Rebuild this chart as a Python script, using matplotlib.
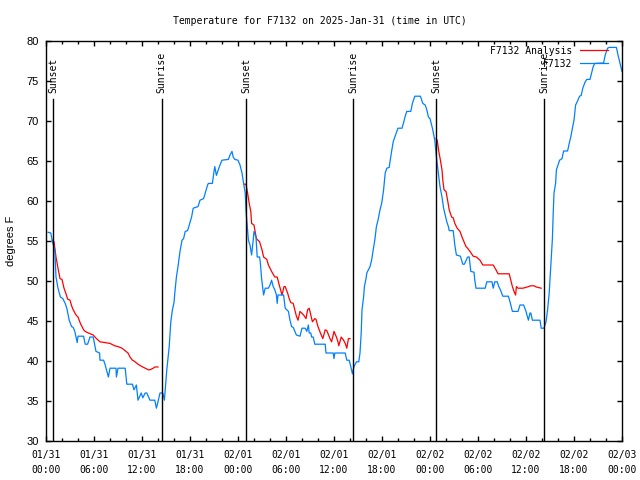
import numpy as np
import pandas as pd
import matplotlib
matplotlib.use("Agg")
from matplotlib import pyplot as plt
import matplotlib.dates as mdates

start = pd.Timestamp("2025-01-31 00:00")

# observed station temps (hours after start, deg F)
obs_hours = [0.25, 0.6, 0.8, 1.1, 1.25, 1.5, 1.8, 2.1, 2.4, 2.6, 2.9, 3.2, 3.4, 3.6, 3.9, 4.0, 4.7, 4.9,
             5.2, 5.5, 5.9, 6.25, 6.7, 6.75, 7.2, 7.4, 7.8, 8.0, 8.75, 8.8, 9.0, 9.9, 10.1, 10.8, 11.0,
             11.3, 11.5, 11.9, 12.1, 12.4, 12.6, 13.0, 13.6, 13.8, 14.0, 14.25, 14.6, 14.8, 15.1, 15.4,
             15.6, 15.8, 16.0, 16.1, 16.3, 16.5, 16.75, 17.0, 17.2, 17.4, 17.7, 17.9, 18.2, 18.4, 19.0,
             19.25, 19.7, 19.9, 20.2, 20.3, 20.8, 21.0, 21.1, 21.3, 21.5, 21.75, 22.0, 22.8, 23.0, 23.25,
             23.4, 23.6, 24.0, 24.25, 24.5, 24.7, 24.9, 25.0, 25.3, 25.5, 25.6, 25.7, 25.9, 26.0, 26.25,
             26.4, 26.7, 26.8, 26.95, 27.2, 27.4, 27.8, 28.0, 28.2, 28.4, 28.6, 28.8, 28.9, 29.0, 29.7,
             29.9, 30.3, 30.5, 30.7, 30.9, 31.3, 31.75, 32.0, 32.4, 32.6, 32.8, 32.9, 33.1, 33.2, 33.4,
             33.6, 34.9, 35.0, 35.9, 36.0, 36.1, 37.4, 37.6, 37.9, 38.1, 38.3, 38.5, 38.8, 39.1, 39.25,
             39.4, 39.5, 39.7, 39.8, 40.0, 40.1, 40.5, 40.7, 40.9, 41.1, 41.3, 41.5, 41.75, 41.96, 42.2,
             42.4, 42.6, 42.9, 43.0, 43.2, 43.4, 43.6, 44.0, 44.5, 44.7, 44.9, 45.1, 45.6, 45.8, 46.1,
             46.8, 47.1, 47.4, 47.6, 47.8, 48.0, 48.3, 48.6, 48.8, 49.0, 49.25, 49.5, 49.7, 49.9, 50.1,
             50.3, 50.4, 50.9, 51.1, 51.3, 51.8, 52.1, 52.3, 52.7, 52.9, 53.1, 53.5, 53.6, 53.75, 54.9,
             55.1, 55.75, 55.9, 56.1, 56.4, 56.6, 56.8, 57.1, 57.8, 58.0, 58.3, 59.0, 59.25, 59.7, 60.0,
             60.3, 60.5, 60.6, 60.8, 61.75, 61.9, 62.25, 62.5, 62.7, 62.9, 63.1, 63.3, 63.4, 63.5, 63.7,
             63.8, 64.0, 64.2, 64.5, 64.7, 65.2, 65.4, 65.6, 65.8, 66.0, 66.2, 66.4, 66.7, 66.9, 67.1,
             67.4, 67.6, 68.0, 68.2, 68.4, 68.6, 69.7, 69.9, 70.2, 70.4, 71.3, 71.5, 71.75, 72.0]
obs_temp = [56.1, 56.0, 54.9, 53.9, 50.5, 49.1, 48.0, 47.8, 47.2, 46.6, 45.1, 44.3, 44.2, 43.7, 42.3, 43.1,
            43.1, 42.1, 42.1, 43.0, 43.0, 41.2, 41.0, 40.1, 40.1, 39.5, 38.0, 39.1, 39.1, 38.0, 39.1,
            39.1, 37.1, 37.1, 36.4, 37.0, 35.1, 36.0, 35.4, 36.0, 36.0, 35.1, 35.1, 34.1, 34.9, 36.0,
            36.0, 35.1, 38.9, 41.8, 44.9, 46.4, 47.3, 48.5, 50.5, 51.8, 53.7, 55.1, 55.3, 56.2, 56.3,
            57.0, 58.0, 59.1, 59.3, 60.1, 60.3, 61.0, 62.0, 62.2, 62.2, 63.7, 64.3, 63.2, 63.8, 64.5,
            65.1, 65.2, 65.75, 66.2, 65.5, 65.2, 65.1, 64.5, 63.5, 62.2, 61.0, 58.8, 55.1, 54.5, 53.9,
            53.25, 55.1, 56.2, 55.5, 53.0, 53.0, 52.2, 50.3, 48.25, 49.1, 49.1, 49.5, 50.1, 49.3, 48.9,
            48.25, 47.2, 48.25, 48.25, 46.6, 46.2, 45.1, 44.3, 44.2, 43.25, 43.1, 44.1, 44.1, 43.7, 44.5,
            43.5, 43.5, 43.0, 43.0, 42.1, 42.1, 41.0, 41.0, 40.3, 41.0, 41.0, 40.1, 40.1, 39.3, 38.4,
            39.3, 39.9, 39.9, 41.0, 43.5, 46.4, 48.0, 49.3, 50.3, 51.0, 51.8, 52.6, 53.9, 55.1, 56.8,
            57.6, 58.9, 59.7, 61.4, 63.5, 64.1, 64.2, 64.9, 66.2, 67.4, 68.0, 69.1, 69.1, 69.8, 70.6,
            71.2, 71.2, 72.2, 73.1, 73.1, 72.2, 72.0, 71.4, 70.5, 70.3, 69.1, 67.6, 65.5, 63.9, 61.8,
            60.5, 59.1, 58.25, 57.4, 56.8, 56.3, 56.3, 54.5, 53.25, 53.1, 52.1, 52.1, 53.0, 53.0, 51.2,
            51.1, 50.1, 49.1, 49.1, 49.9, 49.9, 49.1, 49.9, 49.9, 49.3, 48.9, 48.1, 48.1, 47.4, 46.2,
            46.2, 47.0, 47.0, 46.2, 45.1, 46.0, 46.0, 45.1, 45.1, 44.1, 44.1, 44.9, 46.4, 48.5, 51.8,
            55.3, 58.4, 61.0, 62.2, 63.9, 64.5, 65.1, 65.3, 66.25, 66.25, 67.2, 68.0, 69.1, 70.1, 72.0,
            72.4, 73.1, 73.2, 74.1, 74.9, 75.2, 75.2, 76.0, 76.8, 77.2, 77.25, 78.25, 79.1, 79.2, 79.2,
            78.25, 77.2, 76.2]

# analysis temps, three overnight runs (nan breaks the line)
ana_hours = [0.8, 1.0, 1.25, 1.5, 1.75, 2.0, 2.25, 2.5, 2.7, 3.0, 3.2, 3.4, 3.75, 4.0, 4.3, 4.7, 4.9, 5.3,
             5.9, 6.3, 6.75, 7.4, 8.0, 8.6, 9.0, 9.5, 10.0, 10.25, 10.5, 10.8, 11.0, 11.5, 12.0, 12.4,
             12.8, 13.0, 13.4, 13.6, 14.0, 14.1,
             24.8, 25.0, 25.2, 25.4, 25.6, 25.7, 26.0, 26.1, 26.3, 26.7, 27.0, 27.2, 27.6, 27.8, 28.0,
             28.2, 28.6, 28.9, 29.1, 29.3, 29.5, 29.75, 29.9, 30.2, 30.4, 30.6, 30.9, 31.1, 31.3, 31.5,
             31.75, 32.2, 32.5, 32.7, 32.9, 33.1, 33.3, 33.6, 33.75, 34.0, 34.3, 34.6, 34.9, 35.1, 35.5,
             35.7, 36.0, 36.3, 36.5, 36.6, 36.9, 37.2, 37.4, 37.6, 37.8, 38.0, 38.1,
             48.75, 48.9, 49.1, 49.3, 49.5, 49.6, 49.75, 50.0, 50.2, 50.4, 50.7, 50.9, 51.1, 51.4, 51.75,
             52.0, 52.25, 52.5, 52.7, 53.0, 53.4, 53.8, 54.25, 54.6, 55.1, 55.9, 56.25, 56.5, 57.0,
             57.9, 58.1, 58.3, 58.5, 58.7, 58.8, 59.0, 59.6, 60.0, 60.3, 60.6, 61.0, 61.3, 61.9]
ana_temp = [55.1, 54.9, 53.0, 51.6, 50.3, 50.2, 49.1, 48.4, 47.75, 47.6, 46.9, 46.4, 45.75, 45.5, 44.7,
            43.9, 43.7, 43.5, 43.25, 42.8, 42.4, 42.3, 42.2, 41.9, 41.8, 41.6, 41.2, 41.0, 40.5, 40.1,
            40.0, 39.6, 39.3, 39.1, 38.9, 38.9, 39.1, 39.25, 39.25, np.nan,
            62.1, 62.1, 61.0, 59.7, 58.7, 57.2, 57.0, 56.4, 55.3, 54.9, 53.9, 53.0, 52.7, 52.0, 51.6,
            51.2, 50.5, 50.5, 49.7, 49.0, 48.25, 49.3, 49.3, 48.5, 47.8, 47.3, 47.2, 46.4, 45.6, 45.1,
            46.2, 45.75, 45.3, 46.4, 46.6, 45.75, 44.9, 45.3, 45.2, 44.3, 43.5, 42.8, 43.9, 43.8, 42.8,
            42.4, 43.7, 43.0, 42.4, 41.9, 43.0, 42.6, 42.2, 41.6, 42.8, 42.8, np.nan,
            67.8, 67.6, 66.2, 65.1, 63.9, 62.6, 61.4, 61.2, 60.1, 58.9, 58.0, 57.9, 57.2, 56.6, 56.2,
            55.5, 54.9, 54.3, 54.1, 53.7, 53.1, 53.0, 52.6, 52.0, 52.0, 52.0, 51.4, 50.9, 50.9, 50.9,
            50.1, 49.3, 48.7, 48.25, 49.3, 49.1, 49.1, 49.2, 49.3, 49.4, 49.4, 49.25, 49.1]

sun_hours = [0.9, 14.45, 25.0, 38.4, 48.8, 62.3]
sun_names = ["Sunset", "Sunrise", "Sunset", "Sunrise", "Sunset", "Sunrise"]

mono = "DejaVu Sans Mono"
sans = "Liberation Sans"

def to_time(h):
  return start + pd.to_timedelta(np.asarray(h), unit="h")

fig = plt.figure(figsize=(6.4, 4.8), dpi=100)
ax = fig.add_axes([46 / 640, 1 - 441 / 480, 576 / 640, 400 / 480])

ax.plot(to_time(ana_hours), ana_temp, color="#ff0000", lw=0.9, label="F7132 Analysis")
ax.plot(to_time(obs_hours), obs_temp, color="#0080ff", lw=0.9, label="F7132")

# sunrise / sunset markers
for h, name in zip(sun_hours, sun_names):
  t = to_time([h])[0]
  ax.plot([t, t], [30, 72.8], color="black", lw=1.0)
  ax.text(t, 73.5, name, rotation=90, ha="center", va="bottom",
          family=mono, fontsize=7)

ax.set_xlim(to_time([0])[0], to_time([72])[0])
ax.set_ylim(30, 80)
ax.set_yticks(np.arange(30, 81, 5))
ax.xaxis.set_major_locator(mdates.HourLocator(byhour=[0, 6, 12, 18]))
ax.xaxis.set_minor_locator(mdates.HourLocator(interval=2))
ax.xaxis.set_major_formatter(mdates.DateFormatter("%m/%d\n%H:%M"))

ax.tick_params(which="both", direction="in", top=True, right=True, width=1.0)
ax.tick_params(which="major", length=3.6)
ax.tick_params(which="minor", length=2.2)
ax.tick_params(axis="x", pad=6.5)
ax.tick_params(axis="y", pad=5)
for lab in ax.get_xticklabels():
  lab.set_family(mono)
  lab.set_fontsize(7)
  lab.set_linespacing(1.6)
for lab in ax.get_yticklabels():
  lab.set_family(sans)
  lab.set_fontsize(8)
for s in ax.spines.values():
  s.set_linewidth(1.0)

ax.set_ylabel("degrees F", family=sans, fontsize=8, labelpad=8)
fig.text(0.5, 1 - 21 / 480, "Temperature for F7132 on 2025-Jan-31 (time in UTC)",
         ha="center", va="center", family=mono, fontsize=7)

ax.legend(loc="upper right", bbox_to_anchor=(1 - 7 / 576, 1 + 2 / 400), frameon=False,
          markerfirst=False, prop={"family": mono, "size": 7}, handlelength=2.9,
          handletextpad=0.8, borderaxespad=0.3, labelspacing=0.3)

fig.savefig("out.png", dpi=100)
